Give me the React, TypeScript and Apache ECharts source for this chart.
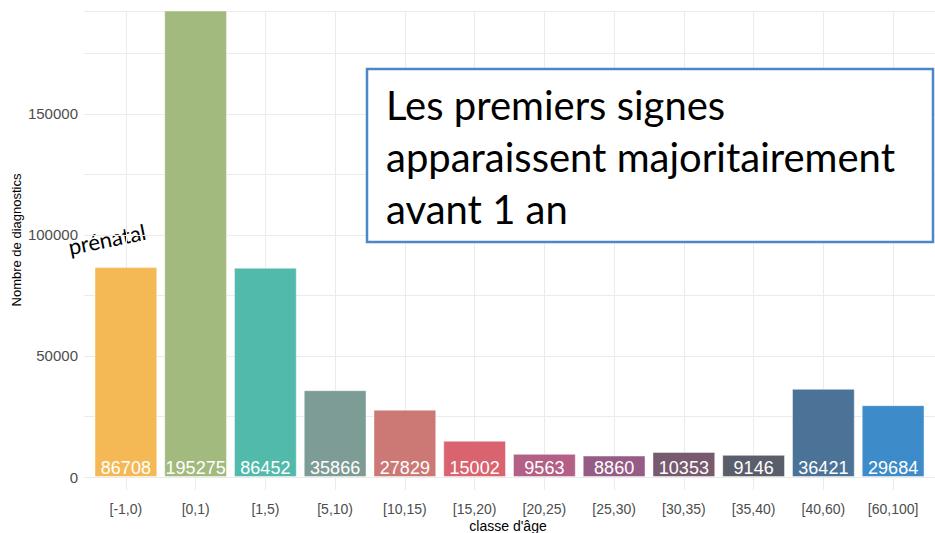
import React, { useEffect, useRef } from "react";
import * as echarts from "echarts";

const categories = ["[-1,0)", "[0,1)", "[1,5)", "[5,10)", "[10,15)", "[15,20)", "[20,25)", "[25,30)", "[30,35)", "[35,40)", "[40,60)", "[60,100]"];
const counts = [86708, 195275, 86452, 35866, 27829, 15002, 9563, 8860, 10353, 9146, 36421, 29684];
const barColors = ["#F4B955", "#A2BA7E", "#52BAAA", "#7D9C95", "#CC7874", "#D9646F", "#B35F86", "#955C85", "#775A6D", "#5A5E6B", "#4B7398", "#3E8BC9"];
const yMax = 192500;
const yStep = 25000;
const yLabelStep = 50000;
const yTitle = "Nombre de diagnostics";
const xTitle = "classe d'âge";
const noteLines = ["Les premiers signes", "apparaissent majoritairement", "avant 1 an"];
const prenatalNote = "prénatal";

export default function App() {
  const ref = useRef<HTMLDivElement>(null);
  useEffect(() => {
    if (!ref.current) return;
    const chart = echarts.init(ref.current, null, { renderer: "svg" });
    const axisFont = "'Liberation Sans', Arial, sans-serif";
    const option: any = {
      animation: false,
      backgroundColor: "#ffffff",
      grid: [
        { left: 84, right: 0, top: 11, bottom: 56 },
        { left: 91, right: 7, top: 11, bottom: 56 },
      ],
      xAxis: [
        { gridIndex: 0, type: "value", show: false, min: 0, max: 1 },
        {
          gridIndex: 1,
          type: "category",
          data: categories,
          axisLine: { show: false },
          axisTick: { show: true, alignWithLabel: true, interval: 0, length: 13, lineStyle: { color: "#EBEBEB", width: 1 } },
          splitLine: { show: true, alignWithLabel: true, interval: 0, lineStyle: { color: "#EBEBEB", width: 1 } },
          axisLabel: { interval: 0, margin: 25, fontSize: 14, color: "#4D4D4D", fontFamily: axisFont },
        },
      ],
      yAxis: [
        {
          gridIndex: 0,
          type: "value",
          min: 0,
          max: yMax,
          interval: yStep,
          axisLine: { show: false },
          axisTick: { show: false },
          splitLine: { show: true, lineStyle: { color: "#EBEBEB", width: 1 } },
          axisLabel: {
            margin: 6,
            fontSize: 15,
            color: "#4D4D4D",
            fontFamily: axisFont,
            showMaxLabel: false,
            formatter: (v: number) => (v % yLabelStep === 0 ? String(v) : ""),
          },
        },
        { gridIndex: 1, type: "value", min: 0, max: yMax, show: false, splitLine: { show: false } },
      ],
      series: [
        {
          type: "bar",
          xAxisIndex: 1,
          yAxisIndex: 1,
          barWidth: "90%",
          clip: true,
          data: counts.map((v, i) => ({
            value: v,
            itemStyle: { color: barColors[i], borderColor: "rgba(255,255,255,0.45)", borderWidth: 1 },
          })),
          label: {
            show: true,
            position: "insideBottom",
            distance: 0,
            color: "#FFFFFF",
            fontSize: 18,
            fontFamily: axisFont,
          },
        },
      ],
      graphic: [
        {
          type: "text",
          x: 16,
          y: 240,
          rotation: Math.PI / 2,
          style: { text: yTitle, fontSize: 13, fill: "#000000", fontFamily: axisFont, align: "center", verticalAlign: "middle" },
        },
        {
          type: "text",
          x: 508,
          y: 526,
          style: { text: xTitle, fontSize: 14, fill: "#000000", fontFamily: axisFont, align: "center", verticalAlign: "middle" },
        },
        {
          type: "text",
          x: 107,
          y: 239,
          rotation: 0.2,
          style: { text: prenatalNote, fontSize: 22, fill: "#000000", fontFamily: "Lato, 'Open Sans', sans-serif", align: "center", verticalAlign: "middle" },
        },
        {
          type: "rect",
          shape: { x: 367, y: 69, width: 566, height: 173 },
          style: { fill: "#FFFFFF", stroke: "#4A88C7", lineWidth: 2.5 },
          z: 10,
        },
        ...noteLines.map((t, i) => ({
          type: "text",
          x: 386,
          y: 105 + i * 52,
          z: 11,
          style: { text: t, fontSize: 40, fill: "#000000", fontFamily: "Lato, 'Open Sans', sans-serif", align: "left", verticalAlign: "middle" },
        })),
      ],
    };
    chart.setOption(option);
    return () => chart.dispose();
  }, []);
  return <div ref={ref} style={{ width: 935, height: 533, position: "absolute", left: 0, top: 0 }} />;
}
